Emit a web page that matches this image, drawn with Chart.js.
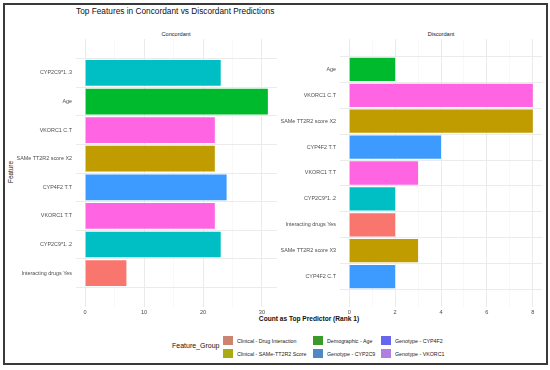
<!DOCTYPE html>
<html>
<head>
<meta charset="utf-8">
<script src="https://cdn.jsdelivr.net/npm/chart.js@4.4.0/dist/chart.umd.min.js"></script>
<style>
  body { margin: 0; background: #fff; font-family: "Liberation Sans", Arial, sans-serif; }
  #wrap { position: relative; width: 550px; height: 370px; overflow: hidden; background: #fff; }
  #frame { position: absolute; left: 3px; top: 3px; width: 541px; height: 358px; border: 2px solid #3a3a3a; pointer-events: none; }
  .txt { position: absolute; white-space: nowrap; line-height: 1; }
  #title { left: 76px; top: 7px; font-size: 8.3px; color: #111; }
  .strip { top: 31.5px; font-size: 5.6px; color: #1a1a1a; transform: translateX(-50%); }
  #ytitle { left: 11px; top: 172px; font-size: 6.4px; color: #111; transform: translate(-50%, -50%) rotate(-90deg); }
  #xtitle { left: 309px; top: 315.5px; font-size: 6.6px; font-weight: bold; color: #111; transform: translateX(-50%); }
  #legtitle { left: 172px; top: 342px; font-size: 7px; color: #111; }
  #legend { position: absolute; left: 223px; top: 334px; display: grid; grid-auto-flow: column;
            grid-template-rows: 13px 13px; grid-template-columns: 90px 68px auto; }
  .item { display: flex; align-items: center; font-size: 5.3px; color: #222; }
  .sw { width: 10px; height: 9px; margin-right: 4px; flex: none; }
  canvas { position: absolute; top: 0; }
</style>
</head>
<body>
<div id="wrap">
  <div class="txt" id="title">Top Features in Concordant vs Discordant Predictions</div>
  <div class="txt strip" style="left:176px">Concordant</div>
  <div class="txt strip" style="left:441px">Discordant</div>
  <div class="txt" id="ytitle">Feature</div>
  <div class="txt" id="xtitle">Count as Top Predictor (Rank 1)</div>
  <div class="txt" id="legtitle">Feature_Group</div>
  <div id="legend"></div>
  <canvas id="c1" width="285" height="320" style="left:0;width:285px;height:320px"></canvas>
  <canvas id="c2" width="270" height="320" style="left:280px;width:270px;height:320px"></canvas>
  <div id="frame"></div>
</div>
<script>
// --- data ---
const groupNames = ['Clinical - Drug Interaction', 'Clinical - SAMe-TT2R2 Score', 'Demographic - Age',
                    'Genotype - CYP2C9', 'Genotype - CYP4F2', 'Genotype - VKORC1'];
const groupColors = ['#F8766D', '#C09C00', '#00BA2E', '#00BFC4', '#3D9BFF', '#FF64E3'];
const legendColors = ['#CC8470', '#A9AA14', '#3A9A2C', '#4E88C6', '#6666EE', '#B27EE0'];

const concordantFeatures = ['CYP2C9*1..3', 'Age', 'VKORC1 C.T', 'SAMe TT2R2 score X2',
                            'CYP4F2 T.T', 'VKORC1 T.T', 'CYP2C9*1..2', 'Interacting drugs Yes'];
const concordantCounts = [23, 31, 22, 22, 24, 22, 23, 7];
const concordantGroups = ['Genotype - CYP2C9', 'Demographic - Age', 'Genotype - VKORC1', 'Clinical - SAMe-TT2R2 Score',
                          'Genotype - CYP4F2', 'Genotype - VKORC1', 'Genotype - CYP2C9', 'Clinical - Drug Interaction'];

const discordantFeatures = ['Age', 'VKORC1 C.T', 'SAMe TT2R2 score X2', 'CYP4F2 T.T', 'VKORC1 T.T',
                            'CYP2C9*1..2', 'Interacting drugs Yes', 'SAMe TT2R2 score X3', 'CYP4F2 C.T'];
const discordantCounts = [2, 8, 8, 4, 3, 2, 2, 3, 2];
const discordantGroups = ['Demographic - Age', 'Genotype - VKORC1', 'Clinical - SAMe-TT2R2 Score', 'Genotype - CYP4F2',
                          'Genotype - VKORC1', 'Genotype - CYP2C9', 'Clinical - Drug Interaction',
                          'Clinical - SAMe-TT2R2 Score', 'Genotype - CYP4F2'];

const concordantTicks = [0, 5, 10, 15, 20, 25, 30];
const discordantTicks = [0, 1, 2, 3, 4, 5, 6, 7, 8];

Chart.defaults.font.family = '"Liberation Sans", Arial, sans-serif';

const colorOf = g => groupColors[groupNames.indexOf(g)];

function makePanel(id, feats, counts, groups, ticks, xmax, labelEvery, yWidth, padRight) {
    const xExp = xmax * 0.05;
    new Chart(document.getElementById(id), {
        type: 'bar',
        data: {
            datasets: [{
                data: counts.map((v, i) => ({ x: v, y: i })),
                backgroundColor: groups.map(colorOf),
                borderWidth: 0,
                barPercentage: 0.9,
                categoryPercentage: 1.0
            }]
        },
        options: {
            indexAxis: 'y',
            responsive: false,
            animation: false,
            layout: { padding: { top: 39, right: padRight, left: 0, bottom: 0 } },
            plugins: { legend: { display: false }, tooltip: { enabled: false } },
            scales: {
                x: {
                    type: 'linear',
                    min: -xExp,
                    max: xmax + xExp,
                    afterBuildTicks: s => { s.ticks = ticks.map(v => ({ value: v })); },
                    afterFit: s => { s.height = 13; },
                    border: { display: false },
                    grid: {
                        drawTicks: false,
                        color: c => (c.tick && c.tick.value % labelEvery === 0) ? '#EBEBEB' : '#F4F4F4',
                        lineWidth: c => (c.tick && c.tick.value % labelEvery === 0) ? 1 : 0.6
                    },
                    ticks: {
                        padding: 2,
                        color: '#4D4D4D',
                        font: { size: 5.6 },
                        maxRotation: 0,
                        autoSkip: false,
                        callback: v => v % labelEvery === 0 ? v : ''
                    }
                },
                y: {
                    type: 'linear',
                    reverse: true,
                    min: -0.6,
                    max: feats.length - 1 + 0.6,
                    afterBuildTicks: s => { s.ticks = feats.map((f, i) => ({ value: i })); },
                    afterFit: s => { s.width = yWidth; },
                    border: { display: false },
                    grid: { drawTicks: false, color: '#EBEBEB', lineWidth: 1 },
                    ticks: {
                        padding: 4,
                        color: '#4D4D4D',
                        font: { size: 5.4 },
                        autoSkip: false,
                        callback: v => feats[v]
                    }
                }
            }
        }
    });
}

makePanel('c1', concordantFeatures, concordantCounts, concordantGroups, concordantTicks, 31, 10, 76, 8);
makePanel('c2', discordantFeatures, discordantCounts, discordantGroups, discordantTicks, 8, 2, 60, 8);

// legend
const leg = document.getElementById('legend');
groupNames.forEach((g, i) => {
    leg.innerHTML += `<div class="item"><span class="sw" style="background:${legendColors[i]}"></span>${g}</div>`;
});
</script>
</body>
</html>
